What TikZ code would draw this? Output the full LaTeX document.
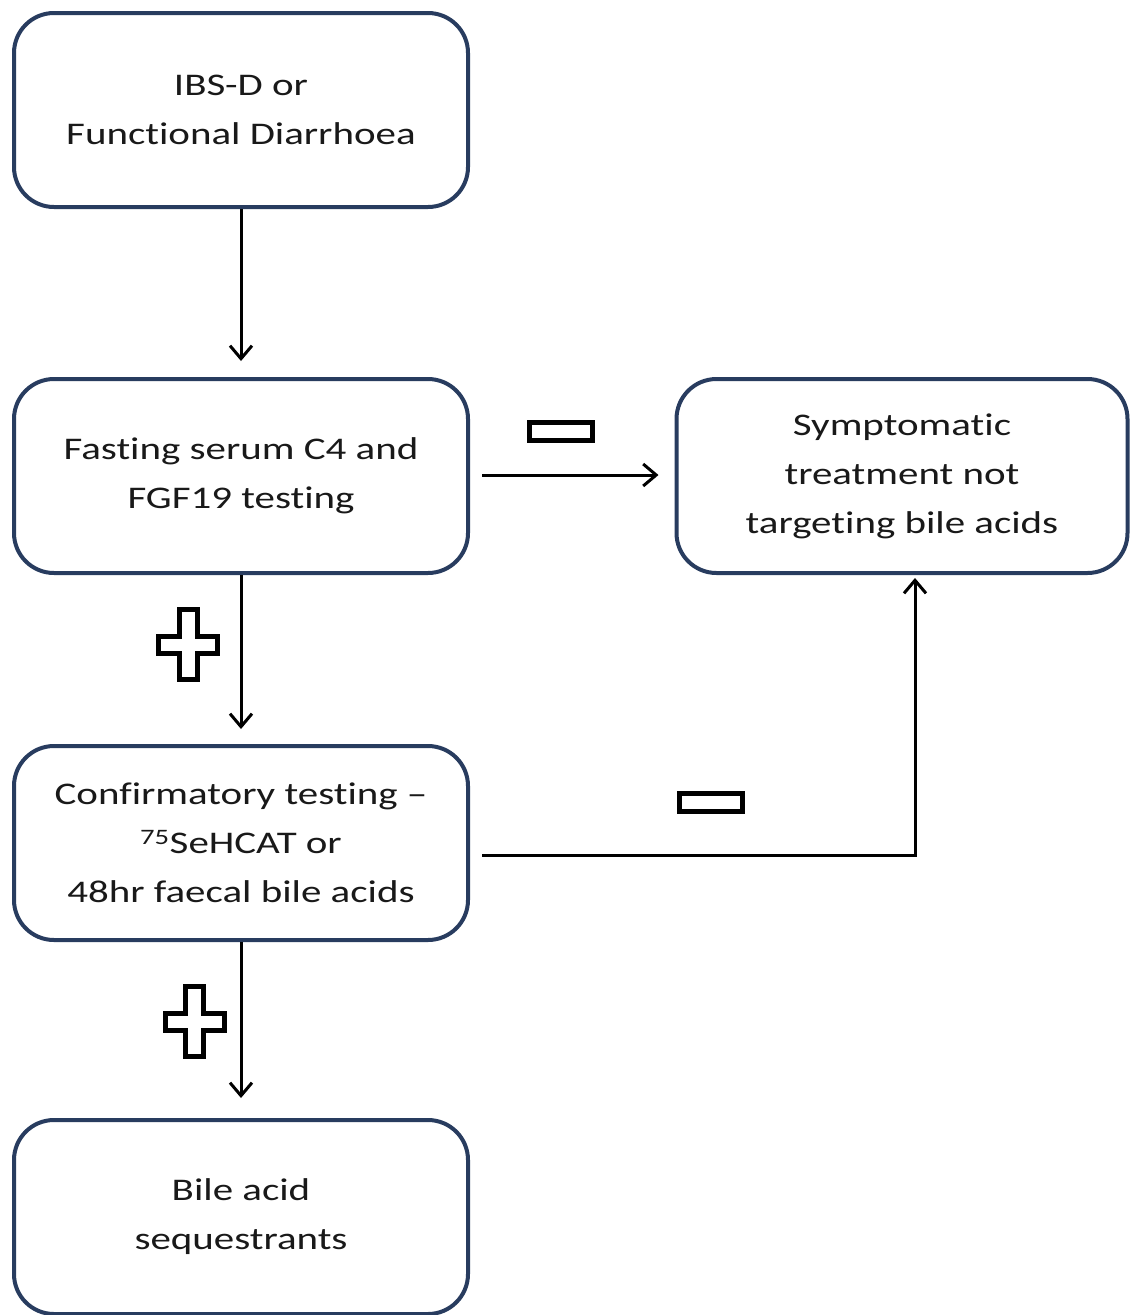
\documentclass[tikz,border=0pt]{standalone}
\usepackage{fontspec}
\setmainfont[FakeStretch=1.3,Ligatures=NoCommon]{Carlito}
\usetikzlibrary{arrows.meta}
\definecolor{boxblue}{RGB}{40,60,95}
\definecolor{txt}{RGB}{25,25,25}
\begin{document}
\begin{tikzpicture}[x=1pt,y=-1pt,
  box/.style={draw=boxblue, line width=4pt, rounded corners=40pt, fill=white,
    minimum width=454pt, minimum height=194pt, align=center, inner sep=0pt,
    text=txt, font=\fontsize{31.5}{49}\selectfont},
  arr/.style={line width=3pt, -{Straight Barb[length=13pt,width=22pt,line width=3pt]}},
  signline/.style={line width=5pt, fill=white, line join=miter},
  plussign/.pic={\draw[signline] (-9,-35)--(9,-35)--(9,-8.5)--(29.5,-8.5)--(29.5,8.5)--(9,8.5)--(9,35)--(-9,35)--(-9,8.5)--(-29.5,8.5)--(-29.5,-8.5)--(-9,-8.5)--cycle;},
  minussign/.pic={\draw[signline] (-31.5,-9) rectangle (31.5,9);}
]
\useasboundingbox (0,0) rectangle (1132,1315);
\node[box] (a) at (241,110) {IBS-D or\\Functional Diarrhoea};
\node[box] (b) at (241,476) {Fasting serum C4 and\\FGF19 testing};
\node[box, minimum width=451pt] (c) at (902,476) {Symptomatic\\treatment not\\targeting bile acids};
\node[box] (d) at (241,843) {Confirmatory testing --\\\textsuperscript{75}SeHCAT or\\48hr faecal bile acids};
\node[box] (e) at (241,1217) {Bile acid\\sequestrants};

\draw[arr, shorten >=16pt] (a.south) -- (b.north);
\draw[arr, shorten <=12pt, shorten >=16pt] ([yshift=1pt]b.east) -- ([yshift=1pt]c.west);
\draw[arr, shorten >=15pt] (b.south) -- (d.north);
\draw[arr, shorten <=12pt, shorten >=3pt] ([yshift=-12pt]d.east) -| ([xshift=13pt]c.south);
\draw[arr, shorten >=20pt] (d.south) -- (e.north);

\pic at (188,644.5) {plussign};
\pic at (194.5,1021.5) {plussign};
\pic at (561,431.5) {minussign};
\pic at (711,802.5) {minussign};
\end{tikzpicture}
\end{document}
